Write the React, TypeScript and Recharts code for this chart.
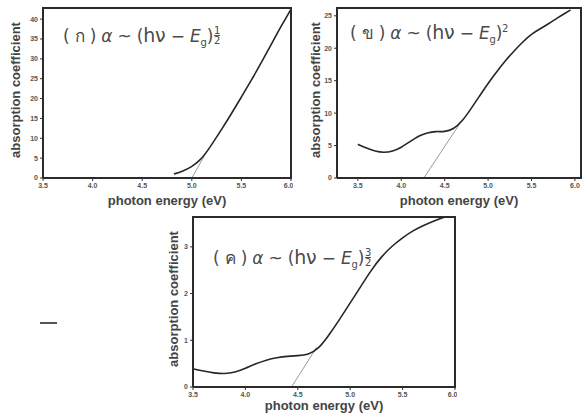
import React from "react";
import { LineChart, Line, XAxis, YAxis } from "recharts";

// shared x ticks (photon energy, eV)
const energyTicks = [3.5, 4.0, 4.5, 5.0, 5.5, 6.0];

// (ก) alpha ~ (hv - Eg)^1/2
const energyA = [4.82, 4.9, 5.0, 5.08, 5.14, 5.2, 5.3, 5.4, 5.5, 5.6, 5.7, 5.8, 5.9, 6.0];
const alphaA = [1.0, 1.6, 2.8, 4.4, 6.2, 8.4, 12.2, 16.2, 20.4, 24.6, 29.0, 33.6, 38.2, 42.5];
const fitEnergyA = [5.0, 5.15];
const fitAlphaA = [0, 6.6];
const yTicksA = [0, 5, 10, 15, 20, 25, 30, 35, 40];

// (ข) alpha ~ (hv - Eg)^2
const energyB = [3.5, 3.6, 3.7, 3.8, 3.9, 4.0, 4.1, 4.2, 4.3, 4.4, 4.5, 4.6, 4.7, 4.8, 4.9, 5.0, 5.1, 5.2, 5.3, 5.4, 5.5, 5.6, 5.7, 5.8, 5.9, 5.95];
const alphaB = [5.2, 4.6, 4.1, 3.9, 4.1, 4.7, 5.6, 6.5, 7.0, 7.2, 7.1, 7.5, 8.7, 10.6, 12.6, 14.6, 16.4, 18.1, 19.6, 21.0, 22.2, 23.0, 23.8, 24.7, 25.5, 25.9];
const fitEnergyB = [4.26, 4.68];
const fitAlphaB = [0, 8.5];
const yTicksB = [0, 5, 10, 15, 20, 25];

// (ค) alpha ~ (hv - Eg)^3/2
const energyC = [3.5, 3.6, 3.7, 3.8, 3.9, 4.0, 4.1, 4.2, 4.3, 4.4, 4.5, 4.6, 4.7, 4.8, 4.9, 5.0, 5.1, 5.2, 5.3, 5.4, 5.5, 5.6, 5.7, 5.8, 5.9];
const alphaC = [0.39, 0.34, 0.3, 0.28, 0.31, 0.4, 0.5, 0.58, 0.63, 0.66, 0.67, 0.69, 0.82, 1.12, 1.45, 1.8, 2.15, 2.5, 2.8, 3.02, 3.2, 3.35, 3.46, 3.56, 3.64];
const fitEnergyC = [4.44, 4.68];
const fitAlphaC = [0, 0.85];
const yTicksC = [0, 1, 2, 3];

const zip = (xs: number[], ys: number[]) => xs.map((e, i) => ({ e, a: ys[i] }));

const MARGIN_TOP = 8;
const MARGIN_RIGHT = 2;
const X_AXIS_H = 32;

const frame = { stroke: "#2b2b2b", strokeWidth: 2 };
const tickStyle = { fontSize: 7, fontWeight: 700, fill: "#555", fontFamily: "Liberation Sans, Arial, sans-serif" };
const titleFont = "Liberation Sans, Arial, sans-serif";

const yTitle = (cx: number) => (props: any) => {
  const vb = props.viewBox ?? { x: 0, y: 0, width: 0, height: 0 };
  const x = vb.x + cx;
  const y = vb.y + vb.height / 2 - 3;
  return (
    <text x={x} y={y} transform={`rotate(-90 ${x} ${y})`} textAnchor="middle" dominantBaseline="central"
      fontSize={13} fontWeight={700} fill="#444" fontFamily={titleFont}>
      absorption coefficient
    </text>
  );
};

const xTitle = (dy: number) => (props: any) => {
  const vb = props.viewBox ?? { x: 0, y: 0, width: 0, height: 0 };
  return (
    <text x={vb.x + vb.width / 2} y={vb.y + dy} textAnchor="middle" dominantBaseline="central"
      fontSize={13} fontWeight={700} fill="#444" fontFamily={titleFont}>
      photon energy (eV)
    </text>
  );
};

type PanelProps = {
  left: number;
  top: number;
  width: number;
  height: number;
  yAxisWidth: number;
  xDomain: [number, number];
  yDomain: [number, number];
  yTicks: number[];
  curve: { e: number; a: number }[];
  fit: { e: number; a: number }[];
  yTitleX: number;
  xTitleDy: number;
};

const Panel = ({ left, top, width, height, yAxisWidth, xDomain, yDomain, yTicks, curve, fit, yTitleX, xTitleDy }: PanelProps) => {
  // plot box, from the same margins that the chart gets
  const boxLeft = yAxisWidth;
  const boxRight = width - MARGIN_RIGHT;
  const boxBottom = height - X_AXIS_H;
  return (
    <div style={{ position: "absolute", left, top, width, height }}>
      <svg width={width} height={height} style={{ position: "absolute", left: 0, top: 0, zIndex: 5, pointerEvents: "none" }}>
        <polyline
          points={`${boxLeft - 1},${MARGIN_TOP} ${boxRight},${MARGIN_TOP} ${boxRight},${boxBottom + 1}`}
          fill="none"
          stroke="#2b2b2b"
          strokeWidth={2}
        />
      </svg>
      <LineChart width={width} height={height} margin={{ top: MARGIN_TOP, right: MARGIN_RIGHT, bottom: 0, left: 0 }}>
        <XAxis
          dataKey="e"
          type="number"
          domain={xDomain}
          ticks={energyTicks}
          tickFormatter={(v) => v.toFixed(1)}
          allowDataOverflow
          height={X_AXIS_H}
          tick={tickStyle}
          tickSize={3}
          tickMargin={2}
          axisLine={frame}
          tickLine={{ stroke: "#333" }}
          label={{ content: xTitle(xTitleDy) }}
        />
        <YAxis
          type="number"
          domain={yDomain}
          ticks={yTicks}
          allowDataOverflow
          width={yAxisWidth}
          tick={tickStyle}
          tickSize={3}
          tickMargin={2}
          axisLine={frame}
          tickLine={{ stroke: "#333" }}
          label={{ content: yTitle(yTitleX) }}
        />
        <Line data={fit} dataKey="a" type="linear" stroke="#9a9a9a" strokeWidth={1} dot={false} isAnimationActive={false} />
        <Line data={curve} dataKey="a" type="basis" stroke="#262626" strokeWidth={1.6} dot={false} isAnimationActive={false} />
      </LineChart>
    </div>
  );
};

const Frac = ({ top, bottom }: { top: string; bottom: string }) => (
  <span style={{ display: "inline-flex", flexDirection: "column", alignItems: "center", fontSize: 10, lineHeight: "9px", verticalAlign: 8, marginLeft: 1 }}>
    <span>{top}</span>
    <span style={{ borderTop: "1px solid #555", width: 6 }} />
    <span>{bottom}</span>
  </span>
);

const Title = ({ left, top, tag, exp }: { left: number; top: number; tag: string; exp: React.ReactNode }) => (
  <div style={{ position: "absolute", left, top, zIndex: 6, fontFamily: "DejaVu Sans, sans-serif", fontSize: 17, color: "#4a4a4a", whiteSpace: "nowrap", letterSpacing: -0.2 }}>
    ( {tag} ) <i>α</i> ~ (<span style={{ fontSize: 19 }}>hν</span> − <i>E</i><sub style={{ fontSize: 10 }}>g</sub>)
    {exp}
  </div>
);

export default function App() {
  return (
    <div style={{ position: "absolute", left: 0, top: 0, width: 583, height: 418, background: "#fff", overflow: "hidden" }}>
      <Panel left={0} top={0} width={293} height={210} yAxisWidth={43} xDomain={[3.5, 6.0]} yDomain={[0, 42.8]} yTicks={yTicksA}
        curve={zip(energyA, alphaA)} fit={zip(fitEnergyA, fitAlphaA)} yTitleX={15} xTitleDy={22} />
      <Panel left={295} top={0} width={288} height={210} yAxisWidth={42} xDomain={[3.26, 6.07]} yDomain={[0, 26.2]} yTicks={yTicksB}
        curve={zip(energyB, alphaB)} fit={zip(fitEnergyB, fitAlphaB)} yTitleX={20} xTitleDy={22} />
      <Panel left={153} top={209} width={304} height={210} yAxisWidth={40} xDomain={[3.5, 6.0]} yDomain={[0, 3.64]} yTicks={yTicksC}
        curve={zip(energyC, alphaC)} fit={zip(fitEnergyC, fitAlphaC)} yTitleX={20} xTitleDy={18} />
      <Title left={63} top={22} tag="ก" exp={<Frac top="1" bottom="2" />} />
      <Title left={350} top={19} tag="ข" exp={<sup style={{ fontSize: 10 }}>2</sup>} />
      <Title left={213} top={244} tag="ค" exp={<Frac top="3" bottom="2" />} />
      <div style={{ position: "absolute", left: 40, top: 322, width: 17, height: 0, borderTop: "2px solid #555" }} />
    </div>
  );
}
